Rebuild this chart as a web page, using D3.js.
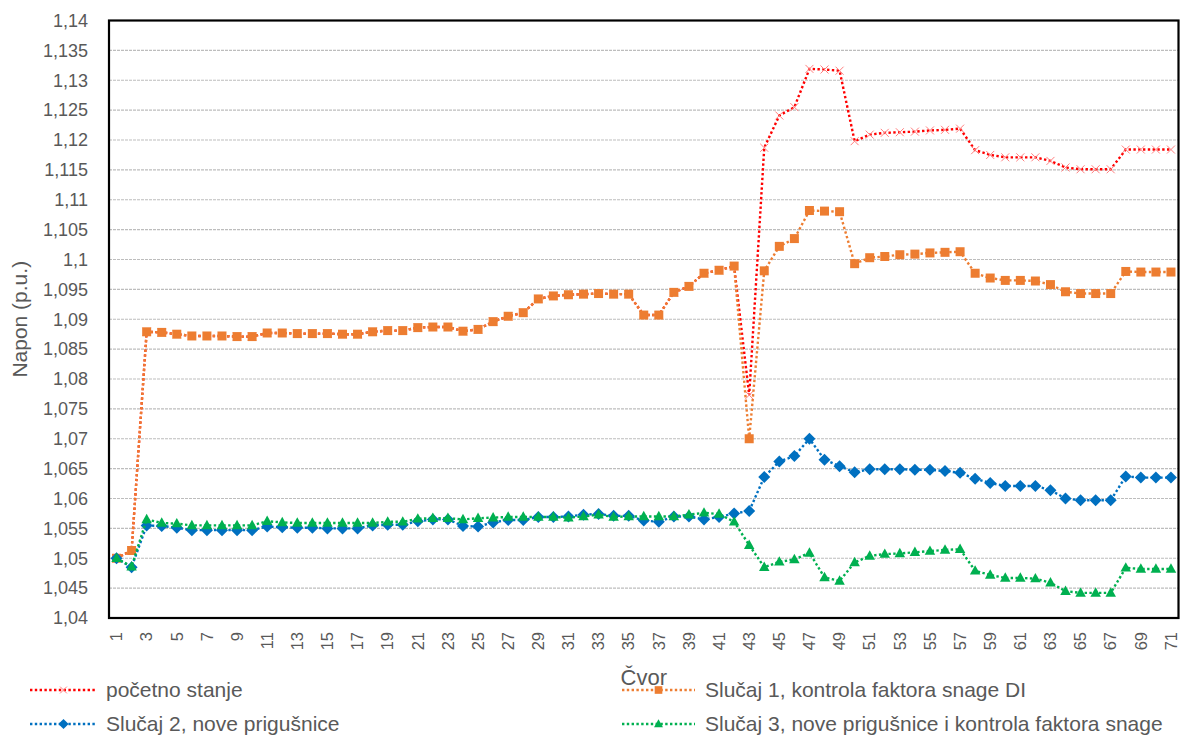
<!DOCTYPE html>
<html>
<head>
<meta charset="utf-8">
<script src="https://cdn.jsdelivr.net/npm/d3@7"></script>
<style>
  html, body { margin: 0; padding: 0; background: #fff; }
  svg { display: block; font-family: "Liberation Sans", "Open Sans", sans-serif; }
</style>
</head>
<body>
<svg id="chart" width="1186" height="738"></svg>
<script>
// Node numbers (Čvor)
const nodes = [1,2,3,4,5,6,7,8,9,10,11,12,13,14,15,16,17,18,19,20,21,22,23,24,25,26,27,28,29,30,
  31,32,33,34,35,36,37,38,39,40,41,42,43,44,45,46,47,48,49,50,51,52,53,54,55,56,57,58,59,60,
  61,62,63,64,65,66,67,68,69,70,71];

// Voltage per node, p.u.
const pocetnoStanje = [1.0500,1.0513,1.0879,1.0878,1.0875,1.0872,1.0872,1.0872,1.0871,1.0871,
  1.0877,1.0877,1.0876,1.0876,1.0876,1.0875,1.0875,1.0879,1.0881,1.0881,
  1.0886,1.0887,1.0887,1.0880,1.0883,1.0896,1.0905,1.0911,1.0934,1.0939,
  1.0941,1.0942,1.0943,1.0942,1.0942,1.0907,1.0907,1.0945,1.0955,1.0977,
  1.0982,1.0989,1.0773,1.1187,1.1241,1.1255,1.1319,1.1318,1.1316,1.1198,
  1.1209,1.1212,1.1213,1.1214,1.1216,1.1217,1.1219,1.1183,1.1175,1.1171,
  1.1171,1.1171,1.1165,1.1154,1.1151,1.1151,1.1151,1.1184,1.1184,1.1184,1.1184];

const slucaj1 = [1.0500,1.0513,1.0879,1.0878,1.0875,1.0872,1.0872,1.0872,1.0871,1.0871,
  1.0877,1.0877,1.0876,1.0876,1.0876,1.0875,1.0875,1.0879,1.0881,1.0881,
  1.0886,1.0887,1.0887,1.0880,1.0883,1.0896,1.0905,1.0911,1.0934,1.0939,
  1.0941,1.0942,1.0943,1.0942,1.0942,1.0907,1.0907,1.0945,1.0955,1.0977,
  1.0982,1.0989,1.0700,1.0981,1.1022,1.1035,1.1082,1.1081,1.1080,1.0993,
  1.1003,1.1005,1.1008,1.1009,1.1011,1.1012,1.1013,1.0977,1.0969,1.0965,
  1.0965,1.0964,1.0958,1.0946,1.0943,1.0943,1.0943,1.0980,1.0979,1.0979,1.0979];

const slucaj2 = [1.0500,1.0485,1.0555,1.0554,1.0551,1.0547,1.0547,1.0547,1.0547,1.0547,
  1.0553,1.0552,1.0551,1.0551,1.0550,1.0550,1.0550,1.0555,1.0556,1.0556,
  1.0562,1.0565,1.0565,1.0554,1.0553,1.0560,1.0564,1.0564,1.0569,1.0569,
  1.0570,1.0573,1.0574,1.0571,1.0571,1.0563,1.0561,1.0570,1.0570,1.0565,
  1.0569,1.0575,1.0579,1.0636,1.0662,1.0671,1.0700,1.0665,1.0654,1.0644,
  1.0649,1.0649,1.0649,1.0648,1.0648,1.0646,1.0643,1.0633,1.0626,1.0621,
  1.0621,1.0621,1.0614,1.0600,1.0597,1.0597,1.0597,1.0637,1.0635,1.0635,1.0635];

const slucaj3 = [1.0500,1.0486,1.0565,1.0559,1.0558,1.0555,1.0555,1.0555,1.0555,1.0555,
  1.0562,1.0560,1.0559,1.0559,1.0559,1.0559,1.0559,1.0559,1.0561,1.0561,
  1.0566,1.0567,1.0567,1.0565,1.0567,1.0568,1.0569,1.0569,1.0569,1.0569,
  1.0568,1.0570,1.0573,1.0569,1.0570,1.0570,1.0570,1.0570,1.0573,1.0576,
  1.0574,1.0561,1.0522,1.0485,1.0494,1.0498,1.0509,1.0468,1.0462,1.0493,
  1.0504,1.0507,1.0508,1.0510,1.0512,1.0514,1.0515,1.0479,1.0472,1.0467,
  1.0467,1.0466,1.0459,1.0445,1.0442,1.0442,1.0442,1.0484,1.0482,1.0482,1.0482];

// Axis ticks
const yTicks = [1.04,1.045,1.05,1.055,1.06,1.065,1.07,1.075,1.08,1.085,1.09,1.095,
  1.1,1.105,1.11,1.115,1.12,1.125,1.13,1.135,1.14];
const xTickLabels = [1,3,5,7,9,11,13,15,17,19,21,23,25,27,29,31,33,35,37,39,41,43,45,47,
  49,51,53,55,57,59,61,63,65,67,69,71];

const seriesNames = ["početno stanje", "Slučaj 1, kontrola faktora snage DI",
  "Slučaj 2, nove prigušnice", "Slučaj 3, nove prigušnice i kontrola faktora snage"];

const series = [
  { name: seriesNames[0], values: pocetnoStanje, color: "#FF0000", marker: "x" },
  { name: seriesNames[1], values: slucaj1, color: "#ED7D31", marker: "square" },
  { name: seriesNames[2], values: slucaj2, color: "#0070C0", marker: "diamond" },
  { name: seriesNames[3], values: slucaj3, color: "#00B050", marker: "triangle" }
];

const svg = d3.select("#chart");
const plot = { left: 109, right: 1178.5, top: 20.5, bottom: 618 };
const textColor = "#595959";
const comma = v => String(+v.toFixed(4)).replace(".", ",");

const x = d3.scaleBand().domain(nodes).range([plot.left, plot.right]).padding(0);
const cx = d => x(d) + x.bandwidth() / 2;
const y = d3.scaleLinear().domain([1.04, 1.14]).range([plot.bottom, plot.top]);

// Horizontal gridlines
svg.append("g")
  .selectAll("line")
  .data(yTicks.slice(1, -1))
  .join("line")
  .attr("x1", plot.left).attr("x2", plot.right)
  .attr("y1", d => y(d)).attr("y2", d => y(d))
  .attr("stroke", "#BDBDBD").attr("stroke-width", 1.2)
  .attr("stroke-dasharray", "3 1");

// Y axis labels
const yAxis = d3.axisLeft(y).tickValues(yTicks).tickFormat(comma).tickSize(0).tickPadding(21);
const gy = svg.append("g").attr("transform", `translate(${plot.left},0)`).call(yAxis);
gy.select(".domain").remove();
gy.selectAll("text").attr("fill", textColor).style("font-size", "18px")
  .style("font-family", "'Liberation Sans', sans-serif");

// X axis labels (every second node), rotated
const xAxis = d3.axisBottom(x).tickValues(xTickLabels).tickSize(0).tickPadding(0);
const gx = svg.append("g").attr("transform", `translate(0,${plot.bottom})`).call(xAxis);
gx.select(".domain").remove();
gx.selectAll("text")
  .attr("fill", textColor)
  .style("font-size", "16.5px")
  .style("font-family", "'Liberation Sans', sans-serif")
  .attr("transform", "rotate(-90)")
  .attr("text-anchor", "end")
  .attr("dy", "0.35em")
  .attr("x", -14)
  .attr("y", 0);

// Plot frame
svg.append("rect")
  .attr("x", plot.left).attr("y", plot.top)
  .attr("width", plot.right - plot.left).attr("height", plot.bottom - plot.top)
  .attr("fill", "none").attr("stroke", "#000").attr("stroke-width", 2.2);

// Marker shapes
function markerPath(type, s) {
  if (type === "square") return `M${-s/2},${-s/2}h${s}v${s}h${-s}Z`;
  if (type === "diamond") return `M0,${-s/2}L${s/2},0L0,${s/2}L${-s/2},0Z`;
  if (type === "triangle") {
    const h = s * 0.9;
    return `M0,${-h*0.6}L${s/2},${h*0.4}L${-s/2},${h*0.4}Z`;
  }
  const r = s / 2;
  return `M${-r},${-r}L${r},${r}M${r},${-r}L${-r},${r}`;
}
const markerSize = { x: 8, square: 9, diamond: 12, triangle: 10.5 };

function drawMarker(sel, s, size) {
  sel.attr("d", markerPath(s.marker, size));
  if (s.marker === "x") {
    sel.attr("fill", "none").attr("stroke", "#FF8080").attr("stroke-width", 1);
  } else {
    sel.attr("fill", s.color).attr("stroke", "none");
  }
}

const line = d3.line().x((d, i) => cx(nodes[i])).y(d => y(d));

series.forEach(s => {
  const g = svg.append("g");
  g.append("path")
    .attr("d", line(s.values))
    .attr("fill", "none")
    .attr("stroke", s.color)
    .attr("stroke-width", 2.4)
    .attr("stroke-dasharray", "2.4 2.4");
  g.selectAll("path.m")
    .data(s.values)
    .join("path")
    .attr("class", "m")
    .attr("transform", (d, i) => `translate(${cx(nodes[i])},${y(d)})`)
    .call(sel => drawMarker(sel, s, markerSize[s.marker]));
});

// Axis titles
svg.append("text")
  .attr("transform", `translate(27,${(plot.top + plot.bottom) / 2}) rotate(-90)`)
  .attr("text-anchor", "middle")
  .attr("fill", textColor)
  .style("font-size", "21px")
  .text("Napon (p.u.)");

svg.append("text")
  .attr("x", (plot.left + plot.right) / 2)
  .attr("y", 685)
  .attr("text-anchor", "middle")
  .attr("fill", textColor)
  .style("font-size", "22px")
  .text("Čvor");

// Legend: two columns, two rows
const legendPos = [
  { lx: 30, lw: 67, tx: 106, ty: 690 },
  { lx: 622, lw: 73, tx: 705, ty: 690 },
  { lx: 30, lw: 67, tx: 106, ty: 724 },
  { lx: 622, lw: 73, tx: 705, ty: 724 }
];
const legendOrder = [0, 1, 2, 3];
const lg = svg.append("g");
legendOrder.forEach((si, k) => {
  const s = series[si], p = legendPos[k];
  const item = lg.append("g");
  item.append("line")
    .attr("x1", p.lx).attr("x2", p.lx + p.lw)
    .attr("y1", p.ty).attr("y2", p.ty)
    .attr("stroke", s.color).attr("stroke-width", 2.4)
    .attr("stroke-dasharray", "2.4 2.4");
  item.append("path")
    .attr("transform", `translate(${p.lx + p.lw / 2},${p.ty})`)
    .call(sel => drawMarker(sel, s, markerSize[s.marker] * 0.85));
  item.append("text")
    .attr("x", p.tx).attr("y", p.ty)
    .attr("dy", "0.35em")
    .attr("fill", textColor)
    .style("font-size", "21px")
    .text(s.name);
});
</script>
</body>
</html>
